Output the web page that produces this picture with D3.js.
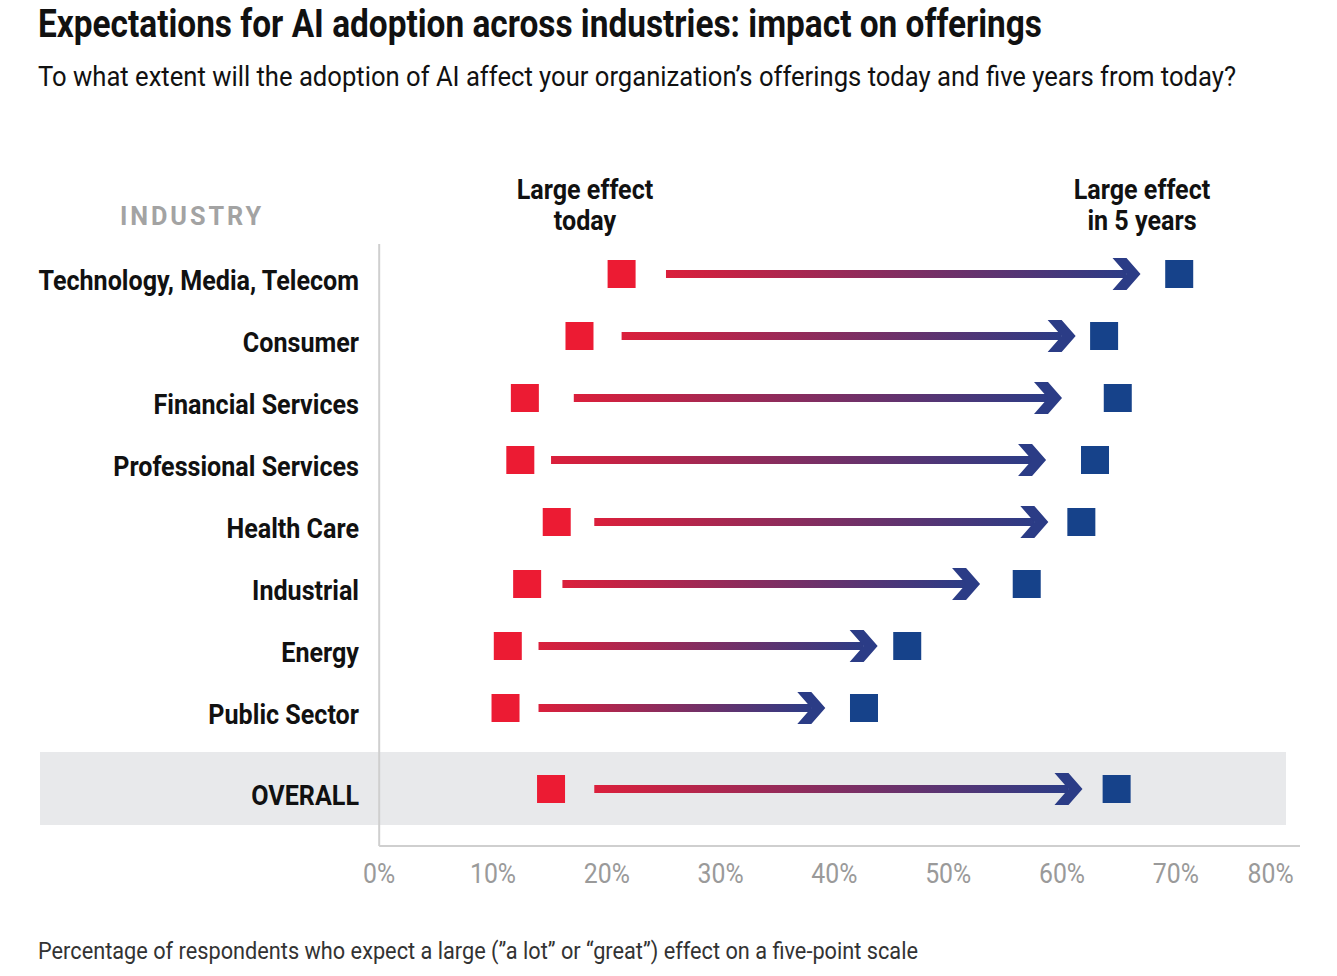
<!DOCTYPE html>
<html>
<head>
<meta charset="utf-8">
<script src="https://cdn.jsdelivr.net/npm/d3@7"></script>
<style>
  body { margin: 0; background: #fff; }
  svg text { font-family: Roboto, "Liberation Sans", sans-serif; }
</style>
</head>
<body>
<div id="chart"></div>
<script>
// values (percent of respondents)
var industries = ["Technology, Media, Telecom", "Consumer", "Financial Services", "Professional Services",
    "Health Care", "Industrial", "Energy", "Public Sector"];
var today = [21.3, 17.6, 12.8, 12.4, 15.6, 13.0, 11.3, 11.1];
var inFiveYears = [70.3, 63.7, 64.9, 62.9, 61.7, 56.9, 46.4, 42.6];
// arrows are hand placed between the two markers in the original
var arrowFrom = [25.2, 21.3, 17.1, 15.1, 18.9, 16.1, 14.0, 14.0];
var arrowTo = [66.9, 61.2, 60.0, 58.6, 58.8, 52.8, 43.8, 39.2];

var overallLabel = "OVERALL";
var overallToday = 15.1;
var overallFive = 64.8;
var overallArrow = [18.9, 61.8];

var ticks = [0, 10, 20, 30, 40, 50, 60, 70, 80];

var width = 1337, height = 976;
var RED = "#EC1B33", BLUE = "#16428A", LINE_RED = "#DB1F3B", LINE_BLUE = "#2B3C86";

var svg = d3.select("#chart").append("svg")
    .attr("width", width)
    .attr("height", height);

var defs = svg.append("defs");

var x = d3.scaleLinear().domain([0, 80]).range([379.2, 1289.6]);
var y = d3.scalePoint().domain(industries).range([274, 708]);
var overallY = 789;

// the original uses a condensed face; squeeze the installed one
function fit(sel, w) {
    sel.attr("textLength", w).attr("lengthAdjust", "spacingAndGlyphs");
}
function condense(sel, k) {
    sel.each(function() {
        var w = this.getComputedTextLength();
        d3.select(this).attr("textLength", w * k).attr("lengthAdjust", "spacingAndGlyphs");
    });
}
var K_BOLD = 0.93, K_REG = 0.92;

// title + subtitle
svg.append("text")
    .attr("x", 38).attr("y", 37)
    .attr("font-size", 38).attr("font-weight", "bold").attr("fill", "#111")
    .text("Expectations for AI adoption across industries: impact on offerings")
    .call(fit, 1004);

svg.append("text")
    .attr("x", 38).attr("y", 86)
    .attr("font-size", 27).attr("fill", "#111")
    .text("To what extent will the adoption of AI affect your organization\u2019s offerings today and five years from today?")
    .call(fit, 1198);

// overall band
svg.append("rect")
    .attr("x", 40).attr("y", 752)
    .attr("width", 1246).attr("height", 73)
    .attr("fill", "#E8E9EB");

// axis lines
svg.append("line")
    .attr("x1", x(0)).attr("x2", x(0))
    .attr("y1", 244).attr("y2", 846)
    .attr("stroke", "#cfcfcf").attr("stroke-width", 2);
svg.append("line")
    .attr("x1", x(0)).attr("x2", 1300)
    .attr("y1", 846).attr("y2", 846)
    .attr("stroke", "#cfcfcf").attr("stroke-width", 2);

// tick labels
svg.append("g").selectAll("text")
    .data(ticks)
    .enter().append("text")
    .attr("x", function(d, i) { return i == ticks.length - 1 ? x(d) + 4 : x(d); })
    .attr("y", 883)
    .attr("text-anchor", function(d, i) { return i == ticks.length - 1 ? "end" : "middle"; })
    .attr("font-size", 27).attr("fill", "#9a9a9a")
    .text(function(d) { return d + "%"; })
    .call(condense, K_REG);

// headers
svg.append("text")
    .attr("x", 192).attr("y", 225)
    .attr("text-anchor", "middle")
    .attr("font-size", 26).attr("font-weight", "bold")
    .attr("letter-spacing", 3).attr("fill", "#a3a3a3")
    .text("INDUSTRY")
    .call(fit, 144);

function header(cx, lines) {
    svg.append("g").selectAll("text")
        .data(lines)
        .enter().append("text")
        .attr("x", cx)
        .attr("y", function(d, i) { return 199 + i * 31; })
        .attr("text-anchor", "middle")
        .attr("font-size", 27).attr("font-weight", "bold").attr("fill", "#111")
        .text(function(d) { return d; })
        .call(condense, K_BOLD);
}
header(585, ["Large effect", "today"]);
header(1142, ["Large effect", "in 5 years"]);

// rows
var rows = industries.map(function(name, i) {
    return {name: name, y: y(name), a: today[i], b: inFiveYears[i], from: arrowFrom[i], to: arrowTo[i]};
});
rows.push({name: overallLabel, y: overallY, a: overallToday, b: overallFive, from: overallArrow[0], to: overallArrow[1]});

var grad = defs.append("linearGradient").attr("id", "arrowGrad");
grad.append("stop").attr("offset", "0%").attr("stop-color", LINE_RED);
grad.append("stop").attr("offset", "100%").attr("stop-color", LINE_BLUE);

var sq = 28, lineW = 8;

var row = svg.append("g").selectAll("g")
    .data(rows)
    .enter().append("g");

row.append("text")
    .attr("x", 359)
    .attr("y", function(d) { return d.y + 16; })
    .attr("text-anchor", "end")
    .attr("font-size", 27).attr("font-weight", "bold").attr("fill", "#111")
    .text(function(d) { return d.name; })
    .call(condense, K_BOLD);

row.append("rect")
    .attr("x", function(d) { return x(d.from); })
    .attr("y", function(d) { return d.y - lineW / 2; })
    .attr("width", function(d) { return x(d.to) - x(d.from) - 14; })
    .attr("height", lineW)
    .attr("fill", "url(#arrowGrad)");

// chevron head, tip at x(to)
row.append("path")
    .attr("d", function(d) {
        var t = x(d.to), c = d.y;
        return "M" + (t - 28) + "," + (c - 16) + " L" + (t - 14) + "," + (c - 16) + " L" + t + "," + c +
            " L" + (t - 14) + "," + (c + 16) + " L" + (t - 28) + "," + (c + 16) + " L" + (t - 14) + "," + c + "Z";
    })
    .attr("fill", LINE_BLUE);

row.append("rect")
    .attr("x", function(d) { return x(d.a) - sq / 2; })
    .attr("y", function(d) { return d.y - sq / 2; })
    .attr("width", sq).attr("height", sq)
    .attr("fill", RED);

row.append("rect")
    .attr("x", function(d) { return x(d.b) - sq / 2; })
    .attr("y", function(d) { return d.y - sq / 2; })
    .attr("width", sq).attr("height", sq)
    .attr("fill", BLUE);

// footnote
svg.append("text")
    .attr("x", 38).attr("y", 959)
    .attr("font-size", 23).attr("fill", "#333")
    .text("Percentage of respondents who expect a large (\u201da lot\u201d or \u201cgreat\u201d) effect on a five-point scale")
    .call(fit, 880);
</script>
</body>
</html>
